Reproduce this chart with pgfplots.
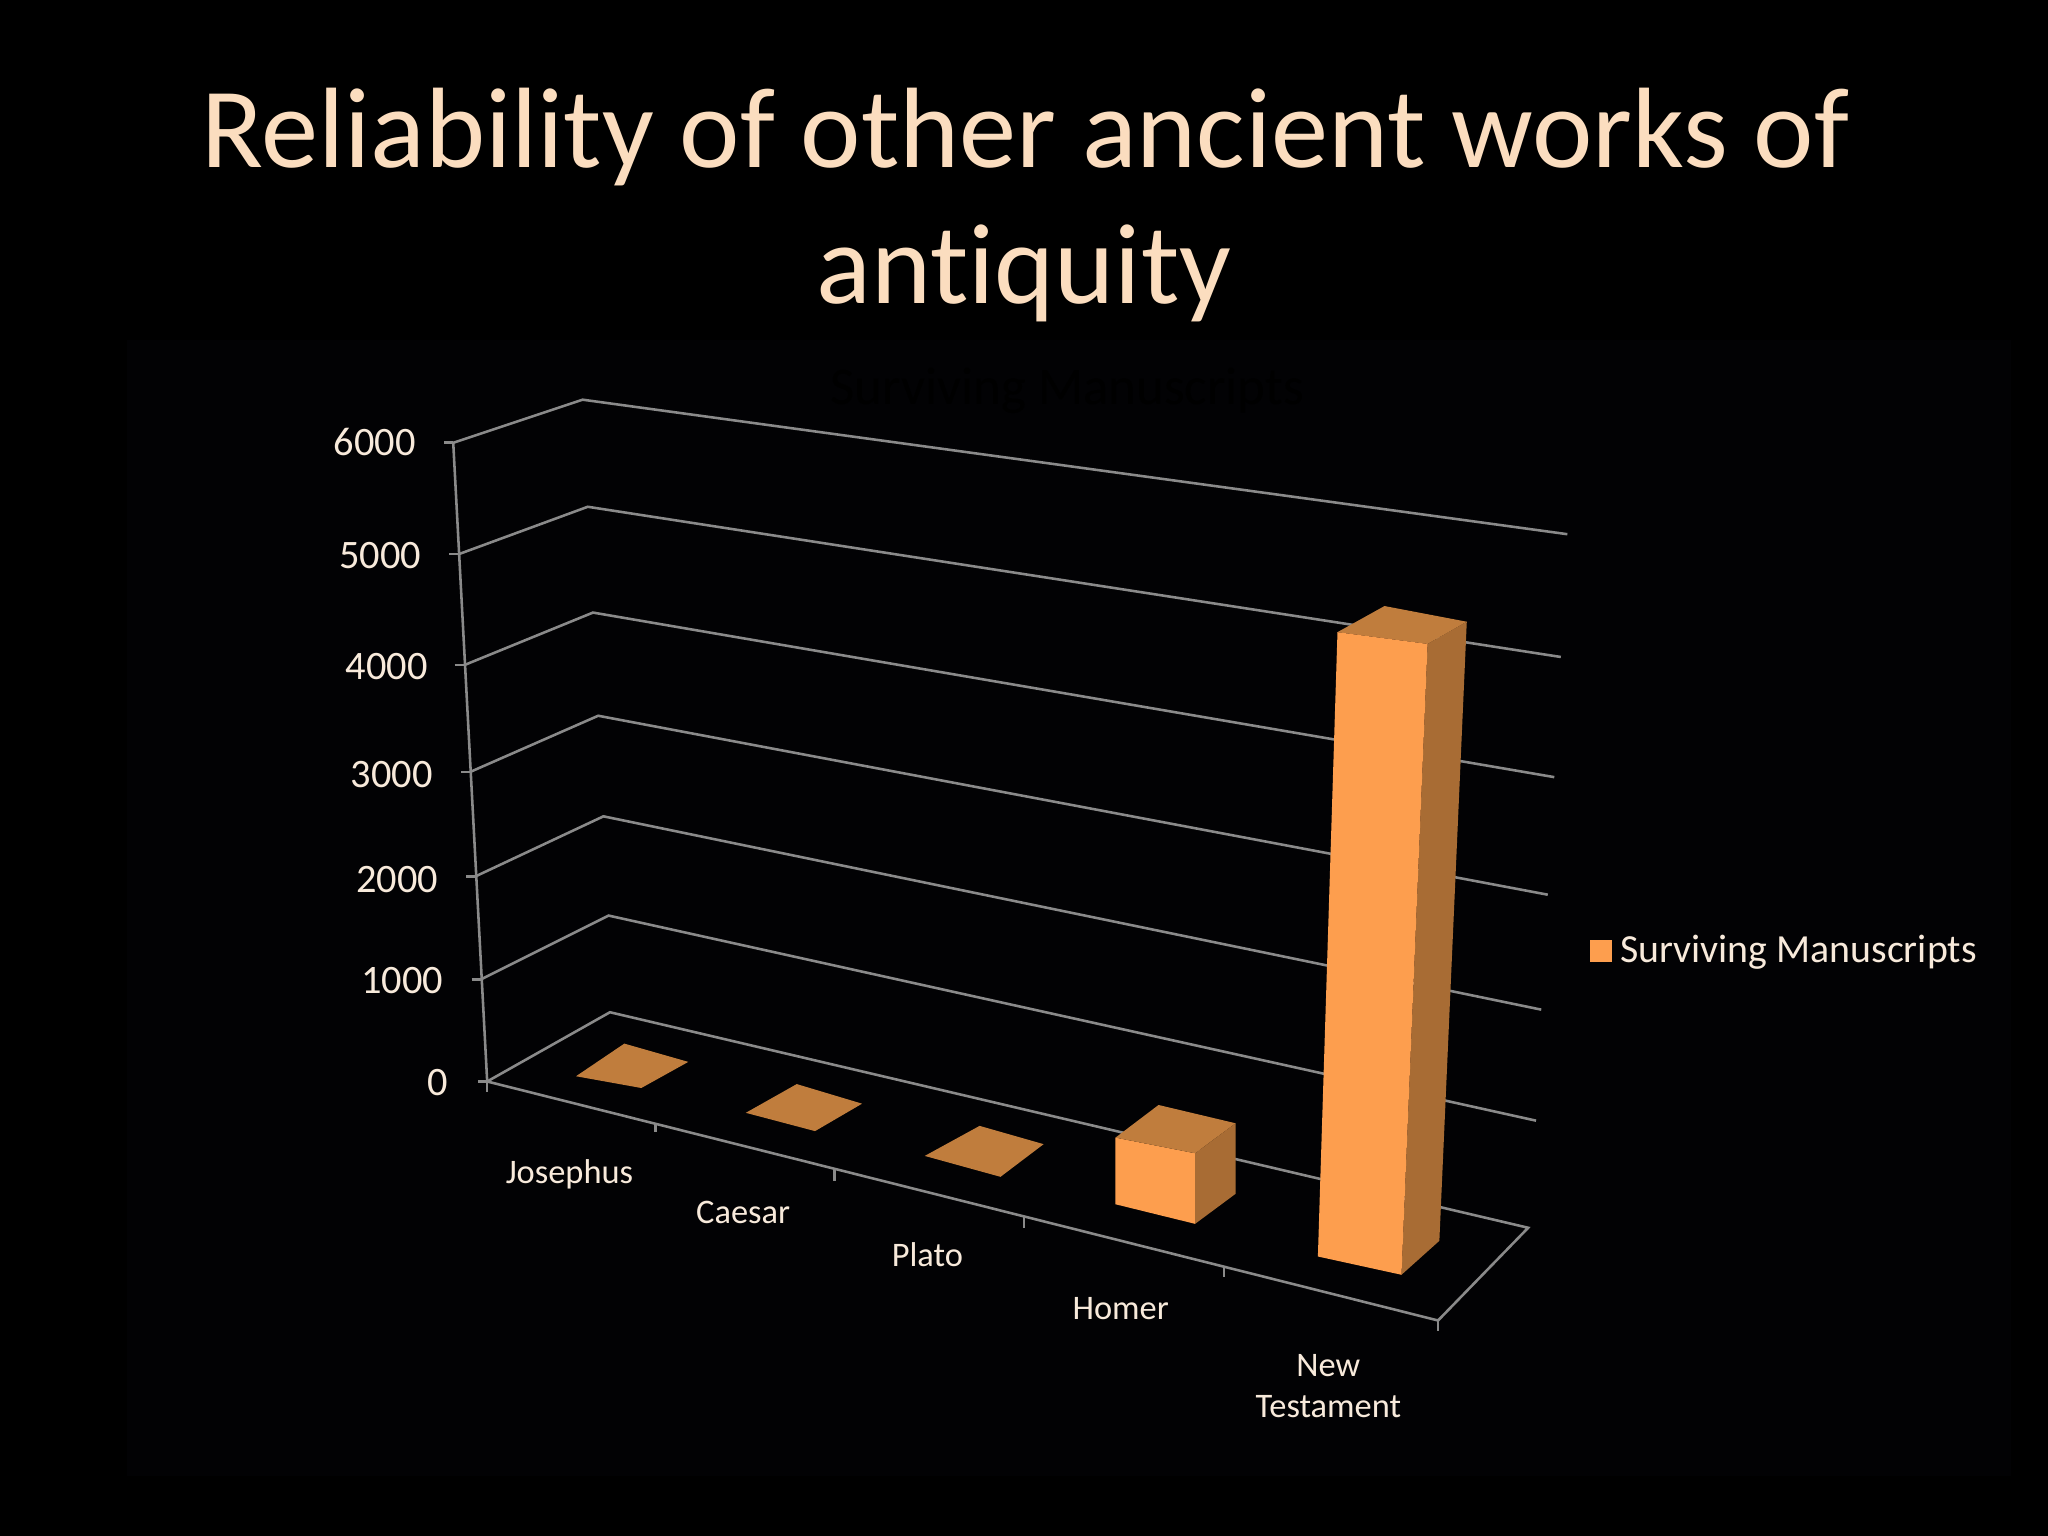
\documentclass[border=0pt]{standalone}
\usepackage{pgfplots}
\pgfplotsset{compat=1.18}
\usepackage{fontspec}
\setmainfont[Ligatures=NoCommon]{Carlito}
\definecolor{titlec}{HTML}{FBDDBF}
\definecolor{textc}{HTML}{F8EADB}
\definecolor{gridc}{HTML}{8A8A8A}
\definecolor{front}{HTML}{FD9E4E}
\definecolor{topc}{HTML}{C07D3D}
\definecolor{side}{HTML}{A86C34}
\definecolor{panel}{HTML}{020204}
\tikzset{
  gridln/.style={draw=gridc, line width=0.9pt},
  ticklab/.style={text=textc, font=\fontsize{14.2}{15}\selectfont},
  catlab/.style={text=textc, font=\fontsize{12.1}{14.5}\selectfont},
  face/.style={draw=none, fill=#1},
}
\begin{document}
\begin{tikzpicture}
\begin{axis}[
  scale only axis, width=720pt, height=540pt,
  xmin=0, xmax=1568, ymin=0, ymax=1176, y dir=reverse,
  hide axis, clip=false,
  legend cell align=left,
  legend style={at={(axis cs:1217,728)}, anchor=west, draw=none, fill=none,
    text=textc, font=\fontsize{14}{15}\selectfont, inner sep=0pt, outer sep=0pt,
    nodes={inner sep=0pt, outer sep=0pt}, column sep=3pt},
  legend image code/.code={\fill[front] (0pt,-3.9pt) rectangle (7.8pt,3.9pt);},
]
% slide background and chart panel
\addplot[face=black, forget plot] coordinates {(0,0)(1568,0)(1568,1176)(0,1176)};
\addplot[face=panel, forget plot] coordinates {(97,260)(1540,260)(1540,1130)(97,1130)};

% gridlines on the side and back walls
\addplot[gridln, forget plot] coordinates {(347,339)(446,306)(1200,409)};
\addplot[gridln, forget plot] coordinates {(352,424)(450,388)(1195,503)};
\addplot[gridln, forget plot] coordinates {(356,509)(454,469)(1190,595)};
\addplot[gridln, forget plot] coordinates {(360,591)(458,548)(1185,685)};
\addplot[gridln, forget plot] coordinates {(364,671)(462,625)(1180,773)};
\addplot[gridln, forget plot] coordinates {(368,750)(466,701)(1176,858)};
% floor
\addplot[gridln, forget plot] coordinates {(373,828)(467,775)(1170,940)(1101,1011)(373,828)};
% value axis and its ticks
\addplot[gridln, forget plot] coordinates {(347,339)(373,828)};
\addplot[gridln, forget plot] coordinates {(340,339)(347,339)};
\addplot[gridln, forget plot] coordinates {(344,424)(352,424)};
\addplot[gridln, forget plot] coordinates {(348,509)(356,509)};
\addplot[gridln, forget plot] coordinates {(353,591)(360,591)};
\addplot[gridln, forget plot] coordinates {(357,671)(364,671)};
\addplot[gridln, forget plot] coordinates {(361,750)(368,750)};
\addplot[gridln, forget plot] coordinates {(366,828)(373,828)};
% category ticks
\addplot[gridln, forget plot] coordinates {(373,828)(373,836)};
\addplot[gridln, forget plot] coordinates {(502,860)(502,867)};
\addplot[gridln, forget plot] coordinates {(639,896)(639,904)};
\addplot[gridln, forget plot] coordinates {(784,932)(784,940)};
\addplot[gridln, forget plot] coordinates {(937,970)(937,978)};
\addplot[gridln, forget plot] coordinates {(1101,1011)(1101,1019)};

% near-zero bars: only the top face shows
\addplot[face=topc, forget plot] coordinates {(441,824)(478,799)(527,813)(491,833)};
\addplot[face=topc, forget plot] coordinates {(571,852)(610,830)(660,845)(624,866)};
\addplot[face=topc, forget plot] coordinates {(708,885)(750,862)(799,876)(766,901)};
% Homer
\addplot[face=front, forget plot] coordinates {(854,871)(915,883)(915,937)(854,922)};
\addplot[face=topc, forget plot] coordinates {(854,871)(887,846)(946,860)(915,883)};
\addplot[face=side, forget plot] coordinates {(915,883)(946,860)(946,914)(915,937)};
% New Testament
\addplot[face=side, forget plot] coordinates {(1093,493)(1123,476)(1102,950)(1073,976)};
\addplot[face=topc, forget plot] coordinates {(1024,484)(1060,464)(1123,476)(1093,493)};
\addplot[face=front] coordinates {(1024,484)(1093,493)(1073,976)(1009,962)};
\addlegendentry{Surviving Manuscripts}

% text
\node[anchor=base, text=titlec, font=\fontsize{40.2}{48}\selectfont] at (axis cs:785,128) {Reliability of other ancient works of};
\node[anchor=base, text=titlec, font=\fontsize{40.2}{48}\selectfont] at (axis cs:784,232) {antiquity};
\node[anchor=base, text=black, font=\fontsize{18.6}{20}\selectfont] at (axis cs:817,310) {Surviving Manuscripts};

\node[ticklab, anchor=base east] at (axis cs:326,349) {6000};
\node[ticklab, anchor=base east] at (axis cs:330,435) {5000};
\node[ticklab, anchor=base east] at (axis cs:335,520) {4000};
\node[ticklab, anchor=base east] at (axis cs:339,603) {3000};
\node[ticklab, anchor=base east] at (axis cs:343,683) {2000};
\node[ticklab, anchor=base east] at (axis cs:347,761) {1000};
\node[ticklab, anchor=base east] at (axis cs:351,839) {0};

\node[catlab, anchor=base] at (axis cs:436,906) {Josephus};
\node[catlab, anchor=base] at (axis cs:569,937) {Caesar};
\node[catlab, anchor=base] at (axis cs:710,970) {Plato};
\node[catlab, anchor=base] at (axis cs:858,1010) {Homer};
\node[catlab, anchor=base] at (axis cs:1017,1054) {New};
\node[catlab, anchor=base] at (axis cs:1017,1085) {Testament};
\end{axis}
\end{tikzpicture}
\end{document}
